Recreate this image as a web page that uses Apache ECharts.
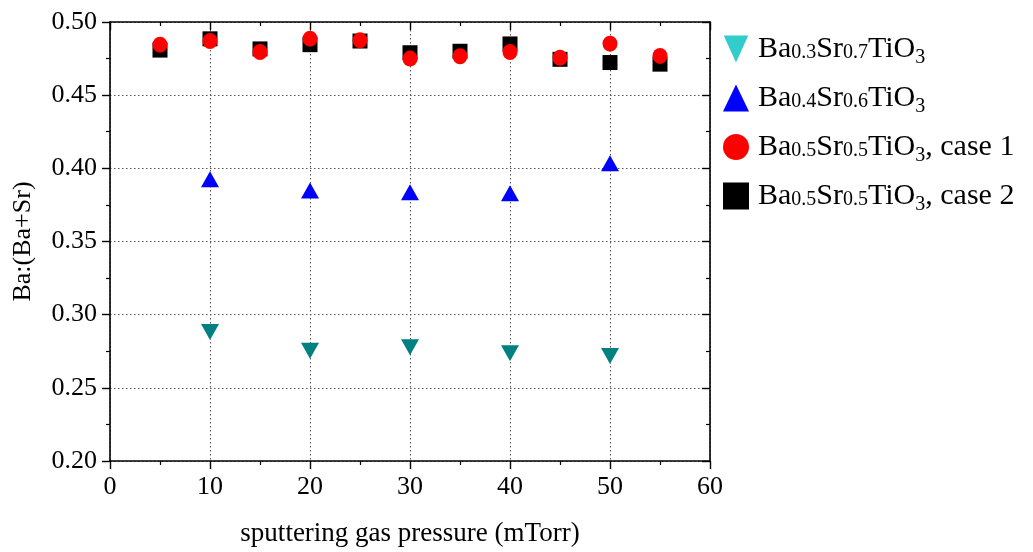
<!DOCTYPE html>
<html>
<head>
<meta charset="utf-8">
<script src="https://cdn.jsdelivr.net/npm/echarts@6/dist/echarts.min.js"></script>
<style>
  html, body { margin: 0; padding: 0; background: #fff; }
  #chart { width: 1033px; height: 552px; }
</style>
</head>
<body>
<div id="chart"></div>
<script>
// Sputtering gas pressure (mTorr)
const pressure = [5, 10, 15, 20, 25, 30, 35, 40, 45, 50, 55];
const pressureSparse = [10, 20, 30, 40, 50];

// Ba:(Ba+Sr) ratio for each film composition
const ba03 = [0.2882, 0.2754, 0.2777, 0.2736, 0.2717];
const ba04 = [0.3926, 0.3849, 0.3836, 0.3830, 0.4035];
const ba05case1 = [0.4845, 0.4870, 0.4795, 0.4886, 0.4875, 0.4750, 0.4766, 0.4795, 0.4755, 0.4852, 0.4768];
const ba05case2 = [0.4808, 0.4885, 0.4816, 0.4845, 0.4870, 0.4790, 0.4800, 0.4850, 0.4745, 0.4723, 0.4712];

const seriesNames = ['Ba0.3Sr0.7TiO3', 'Ba0.4Sr0.6TiO3', 'Ba0.5Sr0.5TiO3, case 1', 'Ba0.5Sr0.5TiO3, case 2'];
const legendLabels = {
  'Ba0.3Sr0.7TiO3': '{n|Ba}{s|0.3}{n|Sr}{s|0.7}{n|TiO}{b|3}',
  'Ba0.4Sr0.6TiO3': '{n|Ba}{s|0.4}{n|Sr}{s|0.6}{n|TiO}{b|3}',
  'Ba0.5Sr0.5TiO3, case 1': '{n|Ba}{s|0.5}{n|Sr}{s|0.5}{n|TiO}{b|3}{n|, case 1}',
  'Ba0.5Sr0.5TiO3, case 2': '{n|Ba}{s|0.5}{n|Sr}{s|0.5}{n|TiO}{b|3}{n|, case 2}'
};

const xTicks = [0, 10, 20, 30, 40, 50, 60];
const yTicks = [0.20, 0.25, 0.30, 0.35, 0.40, 0.45, 0.50];

const pair = (xs, ys) => xs.map((x, i) => [x, ys[i]]);

const serif = 'Liberation Serif';
const gridLine = { show: true, lineStyle: { color: '#555', type: [1.5, 2.5], width: 1 } };
const axisLine = { show: true, onZero: false, lineStyle: { color: '#000', width: 1.6 } };
const majorTick = inside => ({ show: true, inside: inside, length: 8, lineStyle: { color: '#000', width: 1.4 } });
const minorTick = { show: true, splitNumber: 2, length: 4, lineStyle: { color: '#000', width: 1.2 } };

const chart = echarts.init(document.getElementById('chart'), null, { renderer: 'canvas' });

chart.setOption({
  animation: false,
  backgroundColor: '#fff',
  grid: { left: 110, right: 323, top: 22, bottom: 91, containLabel: false },
  legend: {
    orient: 'vertical',
    left: 718,
    top: 29,
    itemWidth: 26,
    itemHeight: 27,
    itemGap: 15,
    selectedMode: false,
    data: [
      { name: seriesNames[0], icon: 'path://M0,0L20,0L10,22Z', itemStyle: { color: '#33cccc' } },
      { name: seriesNames[1] },
      { name: seriesNames[2] },
      { name: seriesNames[3] }
    ],
    formatter: name => legendLabels[name],
    textStyle: {
      padding: [0, 0, 0, 4],
      rich: {
        n: { fontFamily: serif, fontSize: 30, color: '#000', verticalAlign: 'bottom' },
        s: { fontFamily: serif, fontSize: 20, color: '#000', verticalAlign: 'bottom', padding: [0, 0, 1, 0] },
        b: { fontFamily: serif, fontSize: 20, color: '#000', verticalAlign: 'bottom', padding: [0, 0, -4, 0] }
      }
    }
  },
  xAxis: [
    {
      type: 'value', min: xTicks[0], max: xTicks[xTicks.length - 1], interval: 10,
      name: 'sputtering gas pressure (mTorr)', nameLocation: 'middle', nameGap: 59,
      nameTextStyle: { fontFamily: serif, fontSize: 27, color: '#000' },
      axisLine: axisLine,
      axisTick: majorTick(false),
      minorTick: minorTick,
      axisLabel: { fontFamily: serif, fontSize: 26, color: '#000', margin: 13 },
      splitLine: gridLine
    },
    {
      type: 'value', position: 'top', min: xTicks[0], max: xTicks[xTicks.length - 1], interval: 10,
      axisLine: axisLine,
      axisTick: majorTick(true),
      minorTick: minorTick,
      axisLabel: { show: false },
      splitLine: { show: false }
    }
  ],
  yAxis: [
    {
      type: 'value', min: yTicks[0], max: yTicks[yTicks.length - 1], interval: 0.05,
      name: 'Ba:(Ba+Sr)', nameLocation: 'middle', nameGap: 74, nameRotate: 90,
      nameTextStyle: { fontFamily: serif, fontSize: 26, color: '#000' },
      axisLine: axisLine,
      axisTick: majorTick(false),
      minorTick: minorTick,
      axisLabel: { fontFamily: serif, fontSize: 26, color: '#000', margin: 13, formatter: v => v.toFixed(2) },
      splitLine: gridLine
    },
    {
      type: 'value', position: 'right', min: yTicks[0], max: yTicks[yTicks.length - 1], interval: 0.05,
      axisLine: axisLine,
      axisTick: majorTick(true),
      minorTick: minorTick,
      axisLabel: { show: false },
      splitLine: { show: false }
    }
  ],
  series: [
    {
      name: seriesNames[3], type: 'scatter', symbol: 'rect', symbolSize: 15,
      itemStyle: { color: '#000', opacity: 1 }, data: pair(pressure, ba05case2), z: 2
    },
    {
      name: seriesNames[2], type: 'scatter', symbol: 'circle', symbolSize: [15, 16],
      itemStyle: { color: '#ff0000', opacity: 1 }, data: pair(pressure, ba05case1), z: 3
    },
    {
      name: seriesNames[1], type: 'scatter', symbol: 'triangle', symbolSize: [18, 16],
      itemStyle: { color: '#0000ff', opacity: 1 }, data: pair(pressureSparse, ba04), z: 3
    },
    {
      name: seriesNames[0], type: 'scatter', symbol: 'triangle', symbolRotate: 180, symbolSize: [18, 16],
      itemStyle: { color: '#008080', opacity: 1 }, data: pair(pressureSparse, ba03), z: 3
    }
  ]
});
</script>
</body>
</html>
